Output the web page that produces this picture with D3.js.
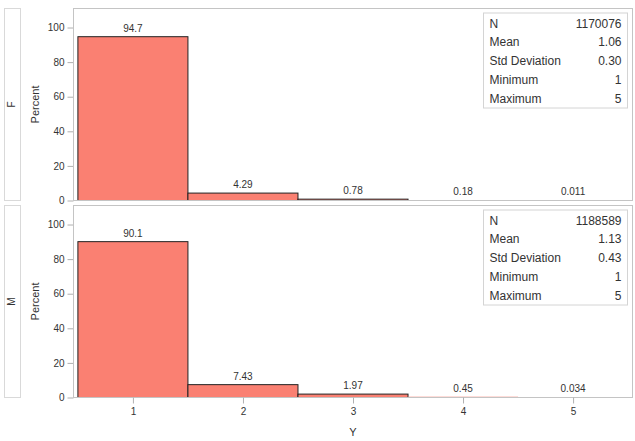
<!DOCTYPE html>
<html>
<head>
<meta charset="utf-8">
<script src="https://cdn.jsdelivr.net/npm/d3@7"></script>
<style>
body { margin: 0; background: #fff; }
text { font-family: "Liberation Sans", Arial, sans-serif; fill: #333; }
</style>
</head>
<body>
<svg id="chart" width="635" height="441"></svg>
<script>
// Data
var bins = [1, 2, 3, 4, 5];
var groups = ["F", "M"];
var percentF = [94.7, 4.29, 0.78, 0.18, 0.011];
var percentM = [90.1, 7.43, 1.97, 0.45, 0.034];
var labelsF = ["94.7", "4.29", "0.78", "0.18", "0.011"];
var labelsM = ["90.1", "7.43", "1.97", "0.45", "0.034"];
var statNames = ["N", "Mean", "Std Deviation", "Minimum", "Maximum"];
var statsF = ["1170076", "1.06", "0.30", "1", "5"];
var statsM = ["1188589", "1.13", "0.43", "1", "5"];
var yTicks = [0, 20, 40, 60, 80, 100];

var svg = d3.select("#chart");

var left = 73.5, right = 632.5;
var panelTops = [8.5, 205.5];
var panelHeight = 192;

var x = d3.scaleLinear().domain([0.46, 5.54]).range([left, right]);

var panels = [
	{name: groups[0], values: percentF, labels: labelsF, stats: statsF},
	{name: groups[1], values: percentM, labels: labelsM, stats: statsM}
];

panels.forEach(function(p, i){
	var top = panelTops[i], bottom = top + panelHeight;
	var y = d3.scaleLinear().domain([0, 111]).range([bottom, top]);
	var g = svg.append("g");

	//Row label strip
	g.append("rect")
		.attr("x", 4.5).attr("y", top)
		.attr("width", 16).attr("height", panelHeight)
		.attr("fill", "#fff").attr("stroke", "#d9d9d9");
	g.append("text")
		.attr("transform", "translate(15," + (top + panelHeight / 2) + ") rotate(-90)")
		.attr("text-anchor", "middle")
		.style("font-size", "10px")
		.text(p.name);

	//Y axis label
	g.append("text")
		.attr("transform", "translate(39," + (top + panelHeight / 2) + ") rotate(-90)")
		.attr("text-anchor", "middle")
		.style("font-size", "11px")
		.text("Percent");

	//Y axis
	var yAxis = g.append("g")
		.attr("transform", "translate(" + left + ",0)")
		.call(d3.axisLeft(y).tickValues(yTicks).tickSize(6).tickPadding(3));
	yAxis.select(".domain").remove();
	yAxis.selectAll("line").attr("stroke", "#b0b0b0");
	yAxis.selectAll("text").style("font-size", "10px").attr("fill", "#333");

	//Bars (sub-pixel bars get no outline, they vanish into the frame)
	g.selectAll(".bar")
		.data(p.values)
		.enter()
		.append("rect")
		.attr("class", "bar")
		.attr("x", function(d, j){ return x(bins[j] - 0.5); })
		.attr("y", function(d){ return y(d); })
		.attr("width", x(1.5) - x(0.5))
		.attr("height", function(d){ return bottom - y(d); })
		.attr("fill", "#fa8072")
		.attr("stroke", function(d){ return (bottom - y(d)) < 1 ? "none" : "#222"; })
		.attr("stroke-width", 1);

	//Frame
	g.append("rect")
		.attr("x", left).attr("y", top)
		.attr("width", right - left).attr("height", panelHeight)
		.attr("fill", "none").attr("stroke", "#c4c4c4");

	//Bar labels
	g.selectAll(".blabel")
		.data(p.labels)
		.enter()
		.append("text")
		.attr("class", "blabel")
		.attr("x", function(d, j){ return x(bins[j]); })
		.attr("y", function(d, j){ return y(p.values[j]) - 5; })
		.attr("text-anchor", "middle")
		.style("font-size", "10px")
		.text(function(d){ return d; });

	//Stats inset
	var bx = 483.5, by = top + 4.5, bw = 144, bh = 95;
	g.append("rect")
		.attr("x", bx).attr("y", by)
		.attr("width", bw).attr("height", bh)
		.attr("fill", "#fff").attr("stroke", "#d4d4d4");
	statNames.forEach(function(n, k){
		var ty = by + 14.5 + k * 18.9;
		g.append("text")
			.attr("x", bx + 6).attr("y", ty)
			.style("font-size", "12px")
			.text(n);
		g.append("text")
			.attr("x", bx + bw - 6).attr("y", ty)
			.attr("text-anchor", "end")
			.style("font-size", "12px")
			.text(p.stats[k]);
	});

	//X axis only under the last panel
	if(i === panels.length - 1){
		var xAxis = g.append("g")
			.attr("transform", "translate(0," + bottom + ")")
			.call(d3.axisBottom(x).tickValues(bins).tickFormat(d3.format("d")).tickSize(6).tickPadding(4));
		xAxis.select(".domain").remove();
		xAxis.selectAll("line").attr("stroke", "#b0b0b0");
		xAxis.selectAll("text").style("font-size", "10px").attr("fill", "#333");
		g.append("text")
			.attr("x", (left + right) / 2).attr("y", 436)
			.attr("text-anchor", "middle")
			.style("font-size", "11px")
			.text("Y");
	}
});
</script>
</body>
</html>
